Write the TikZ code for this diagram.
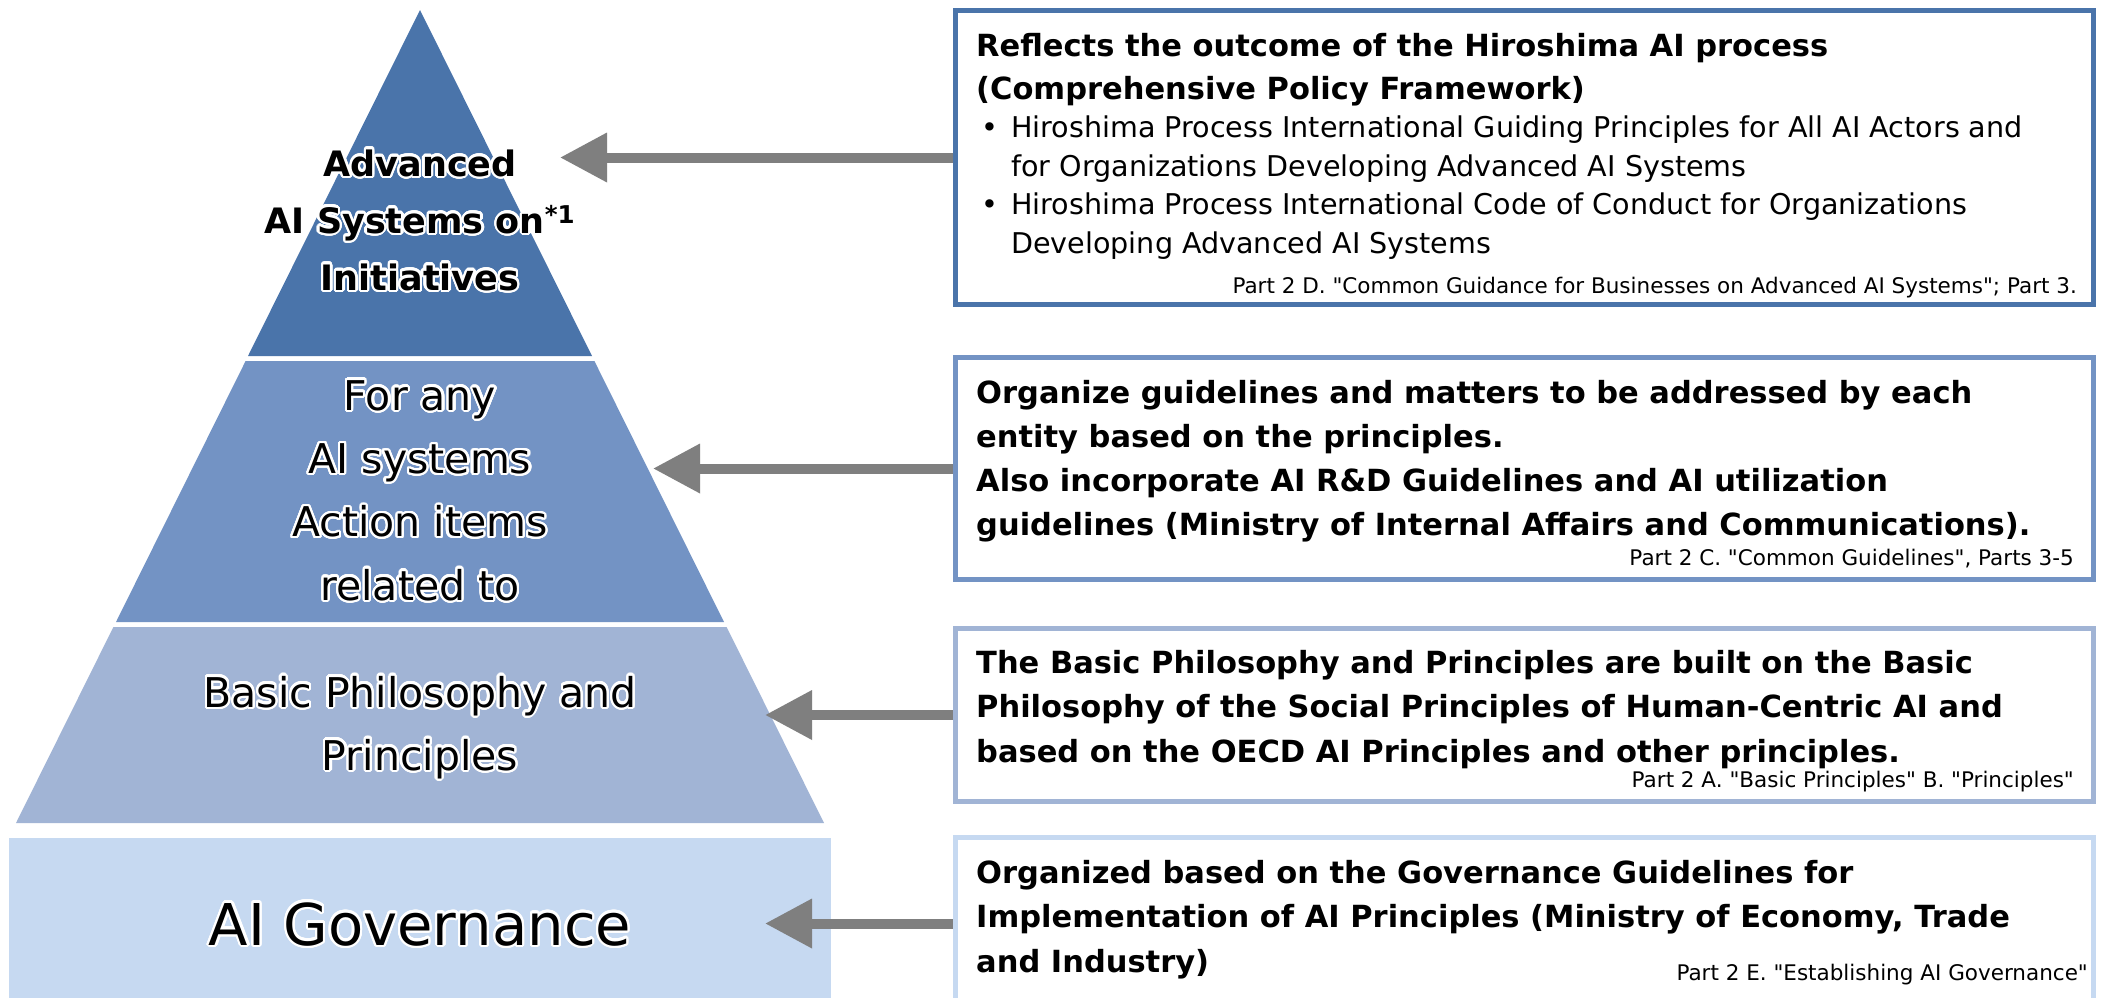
\documentclass[tikz,border=0pt]{standalone}
\usepackage{fontspec}
\setmainfont{DejaVu Sans}[Ligatures=TeXOff]
\usepackage{contour}
\contourlength{2.2pt}
\contournumber{32}
\usetikzlibrary{arrows.meta}
\definecolor{tA}{HTML}{4A74AA}
\definecolor{tB}{HTML}{7393C4}
\definecolor{tC}{HTML}{A1B4D5}
\definecolor{tD}{HTML}{C6D9F1}
\definecolor{arr}{HTML}{7F7F7F}
\newcommand{\gl}[1]{\contour{white}{#1}}
\newcommand{\dq}{\char34\relax}
\begin{document}
\begin{tikzpicture}[x=1pt,y=-1pt,
  ptxt/.style={inner sep=0pt, align=center, anchor=base},
  rtxt/.style={inner sep=0pt, align=left, anchor=base west, font=\bfseries\fontsize{30.5}{44}\selectfont},
  btxt/.style={inner sep=0pt, align=left, anchor=base west, font=\fontsize{28.6}{38.4}\selectfont},
  ftxt/.style={inner sep=0pt, anchor=base east, font=\fontsize{21.5}{26}\selectfont},
  rbox/.style={draw, line width=5pt, fill=white, inner sep=0pt},
  conn/.style={draw=arr, line width=10pt, -{Triangle[length=47pt,width=47pt]}}
]
\useasboundingbox (0,0) rectangle (2105,997);
\fill[white] (0,0) rectangle (2105,997);
% pyramid
\fill[tA] (420,10) -- (592,356) -- (248,356) -- cycle;
\fill[tB] (245.6,361) -- (594.4,361) -- (724,622) -- (116,622) -- cycle;
\fill[tC] (113.4,627) -- (726.6,627) -- (824,823) -- (16,823) -- cycle;
\fill[tD] (9,838) rectangle (831,1005);
\node[ptxt, font=\bfseries\fontsize{35}{57}\selectfont] (p1) at (420,290)
  {\gl{Advanced}\\\gl{AI Systems on\textsuperscript{*1}}\\\gl{Initiatives}};
\node[ptxt, font=\fontsize{41}{63.3}\selectfont] (p2) at (420,600)
  {\gl{For any}\\\gl{AI systems}\\\gl{Action items}\\\gl{related to}};
\node[ptxt, font=\fontsize{41}{63}\selectfont] (p3) at (420,770)
  {\gl{Basic Philosophy and}\\\gl{Principles}};
\node[ptxt, font=\fontsize{57.6}{60}\selectfont] (p4) at (420,945)
  {\gl{AI Governance}};
% boxes
\node[rbox, draw=tA, minimum width=1138pt, minimum height=294pt] (b1) at (1524.5,157.5) {};
\node[rbox, draw=tB, minimum width=1138pt, minimum height=222pt] (b2) at (1524.5,468.5) {};
\node[rbox, draw=tC, minimum width=1138pt, minimum height=173pt] (b3) at (1524.5,715) {};
\node[rbox, draw=tD, minimum width=1138pt, minimum height=172pt] (b4) at (1524.5,923.5) {};
% arrow tips
\coordinate (t1) at (560,157.5);
\coordinate (t2) at (653,468.5);
\coordinate (t3) at (765,715);
\coordinate (t4) at (765,923.5);
\draw[conn] (b1.west) -- (t1);
\draw[conn] (b2.west) -- (t2);
\draw[conn] (b3.west) -- (t3);
\draw[conn] (b4.west) -- (t4);
% box texts
\node[rtxt, font=\bfseries\fontsize{30.5}{43}\selectfont] (x1) at (976,99) {Reflects the outcome of the Hiroshima AI process\\(Comprehensive Policy Framework)};
\node[btxt] (x1b) at (981,253) {\makebox[30pt][l]{•}Hiroshima Process International Guiding Principles for All AI Actors and\\\hspace*{30pt}for Organizations Developing Advanced AI Systems\\\makebox[30pt][l]{•}Hiroshima Process International Code of Conduct for Organizations\\\hspace*{30pt}Developing Advanced AI Systems};
\node[ftxt] (f1) at (2077,293) {Part 2 D. \dq Common Guidance for Businesses on Advanced AI Systems\dq; Part 3.};
\node[rtxt] (x2) at (976,535) {Organize guidelines and matters to be addressed by each\\entity based on the principles.\\Also incorporate AI R\&D Guidelines and AI utilization\\guidelines (Ministry of Internal Affairs and Communications).};
\node[ftxt] (f2) at (2074,565) {Part 2 C. \dq Common Guidelines\dq, Parts 3-5};
\node[rtxt, font=\bfseries\fontsize{30.5}{44.5}\selectfont] (x3) at (976,762) {The Basic Philosophy and Principles are built on the Basic\\Philosophy of the Social Principles of Human-Centric AI and\\based on the OECD AI Principles and other principles.};
\node[ftxt] (f3) at (2074,787) {Part 2 A. \dq Basic Principles\dq\ B. \dq Principles\dq};
\node[rtxt, font=\bfseries\fontsize{30.5}{44.5}\selectfont] (x4) at (976,972) {Organized based on the Governance Guidelines for\\Implementation of AI Principles (Ministry of Economy, Trade\\and Industry)};
\node[ftxt] (f4) at (2088,980) {Part 2 E. \dq Establishing AI Governance\dq};
\end{tikzpicture}
\end{document}
